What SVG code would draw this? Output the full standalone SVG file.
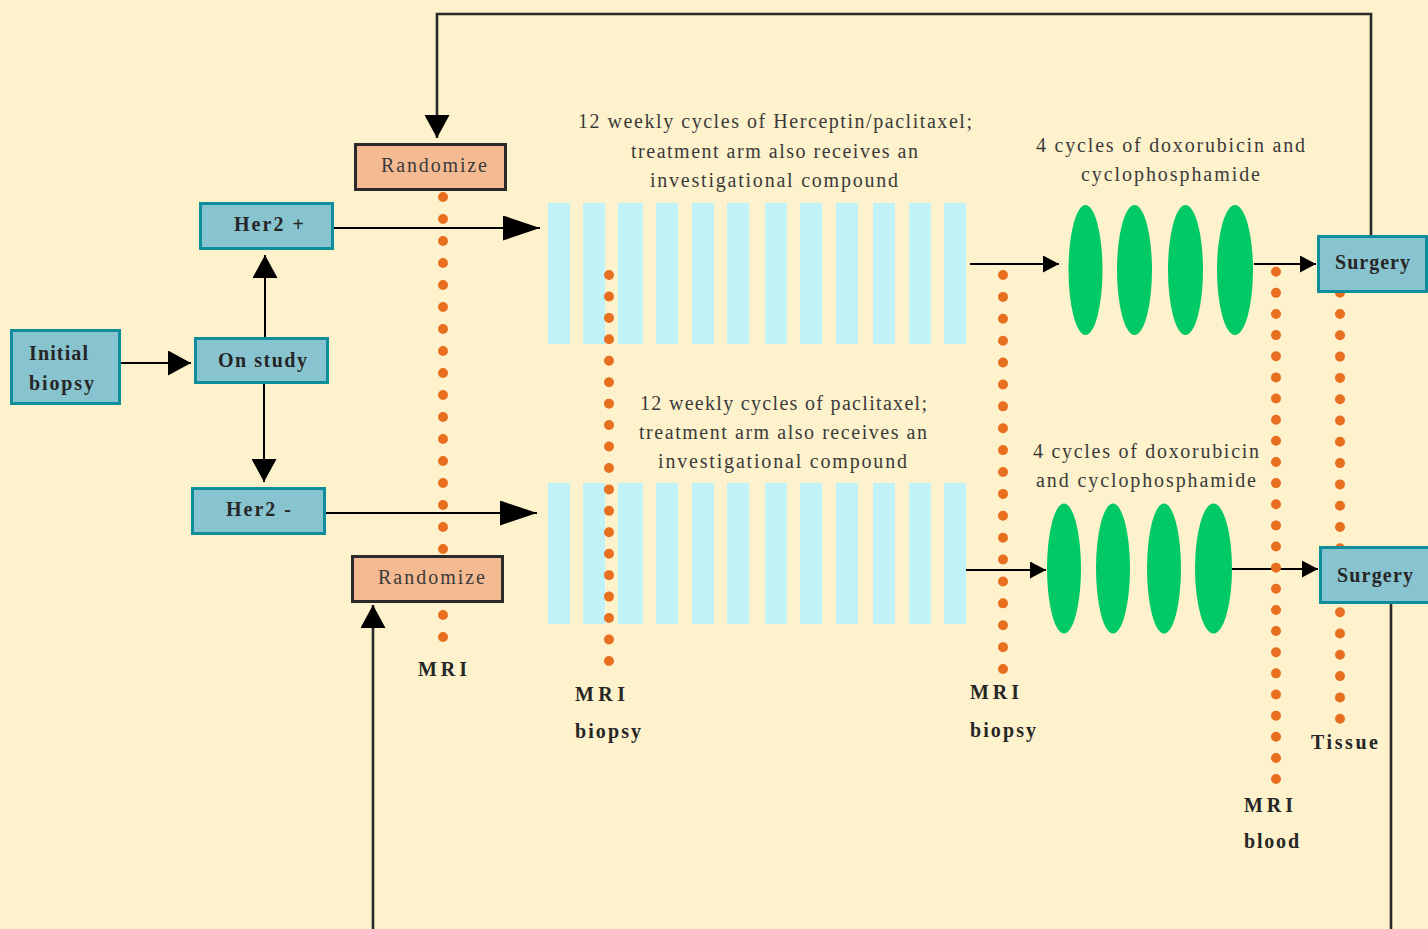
<svg xmlns="http://www.w3.org/2000/svg" width="1428" height="929" viewBox="0 0 1428 929">
<defs>
<marker id="big" markerWidth="23" markerHeight="25" refX="23" refY="12.5" orient="auto" markerUnits="userSpaceOnUse"><path d="M0,0 L23,12.5 L0,25 z" fill="#000"/></marker>
<marker id="long" markerWidth="37" markerHeight="25" refX="37" refY="12.5" orient="auto" markerUnits="userSpaceOnUse"><path d="M0,0 L37,12.5 L0,25 z" fill="#000"/></marker>
<marker id="small" markerWidth="16" markerHeight="17" refX="16" refY="8.5" orient="auto" markerUnits="userSpaceOnUse"><path d="M0,0 L16,8.5 L0,17 z" fill="#000"/></marker>
</defs>
<style>
.box{fill:#88C4CF;stroke:#0E8E9A;stroke-width:3}
.rnd{fill:#F4BB93;stroke:#2A2A2A;stroke-width:3}
.bar{fill:#C0F2F7}
.ell{fill:#00C965}
.dots{stroke:#E86F1F;stroke-width:10;stroke-linecap:round;fill:none}
.con{stroke:#000;stroke-width:2;fill:none}
.loop{stroke:#2A2A2A;stroke-width:2.6;fill:none}
.b{font-family:"Liberation Serif","Times New Roman",serif;font-weight:bold;font-size:20px;fill:#262626}
.r{font-family:"Liberation Serif","Times New Roman",serif;font-size:20px;fill:#3A3A3A}
</style>
<rect x="0" y="0" width="1428" height="929" fill="#FEF2CC"/>

<g id="cycles-top">
<rect class="bar" x="548" y="203" width="22" height="141"/>
<rect class="bar" x="583" y="203" width="22" height="141"/>
<rect class="bar" x="618" y="203" width="25" height="141"/>
<rect class="bar" x="656" y="203" width="22" height="141"/>
<rect class="bar" x="692" y="203" width="22" height="141"/>
<rect class="bar" x="727" y="203" width="22" height="141"/>
<rect class="bar" x="765" y="203" width="22" height="141"/>
<rect class="bar" x="800" y="203" width="22" height="141"/>
<rect class="bar" x="836" y="203" width="22" height="141"/>
<rect class="bar" x="873" y="203" width="22" height="141"/>
<rect class="bar" x="909" y="203" width="22" height="141"/>
<rect class="bar" x="944" y="203" width="22" height="141"/>
<text class="r" x="578" y="128" textLength="394" lengthAdjust="spacing">12 weekly cycles of Herceptin/paclitaxel;</text>
<text class="r" x="631" y="158" textLength="287" lengthAdjust="spacing">treatment arm also receives an</text>
<text class="r" x="650" y="187" textLength="248" lengthAdjust="spacing">investigational compound</text>
</g>

<g id="cycles-bottom">
<rect class="bar" x="548" y="483" width="22" height="141"/>
<rect class="bar" x="583" y="483" width="22" height="141"/>
<rect class="bar" x="618" y="483" width="25" height="141"/>
<rect class="bar" x="656" y="483" width="22" height="141"/>
<rect class="bar" x="692" y="483" width="22" height="141"/>
<rect class="bar" x="727" y="483" width="22" height="141"/>
<rect class="bar" x="765" y="483" width="22" height="141"/>
<rect class="bar" x="800" y="483" width="22" height="141"/>
<rect class="bar" x="836" y="483" width="22" height="141"/>
<rect class="bar" x="873" y="483" width="22" height="141"/>
<rect class="bar" x="909" y="483" width="22" height="141"/>
<rect class="bar" x="944" y="483" width="22" height="141"/>
<text class="r" x="640" y="410" textLength="287" lengthAdjust="spacing">12 weekly cycles of paclitaxel;</text>
<text class="r" x="639" y="439" textLength="288" lengthAdjust="spacing">treatment arm also receives an</text>
<text class="r" x="658" y="468" textLength="249" lengthAdjust="spacing">investigational compound</text>
</g>

<g id="ac-top">
<ellipse class="ell" cx="1085.5" cy="270" rx="17" ry="65"/>
<ellipse class="ell" cx="1134.5" cy="270" rx="17.5" ry="65"/>
<ellipse class="ell" cx="1185.5" cy="270" rx="17.5" ry="65"/>
<ellipse class="ell" cx="1235" cy="270" rx="18" ry="65"/>
<text class="r" x="1036" y="152" textLength="269" lengthAdjust="spacing">4 cycles of doxorubicin and</text>
<text class="r" x="1081" y="181" textLength="179" lengthAdjust="spacing">cyclophosphamide</text>
</g>

<g id="ac-bottom">
<ellipse class="ell" cx="1064" cy="568.5" rx="17" ry="65"/>
<ellipse class="ell" cx="1113" cy="568.5" rx="17" ry="65"/>
<ellipse class="ell" cx="1164" cy="568.5" rx="17" ry="65"/>
<ellipse class="ell" cx="1213.5" cy="568.5" rx="18.5" ry="65"/>
<text class="r" x="1033" y="458" textLength="226" lengthAdjust="spacing">4 cycles of doxorubicin</text>
<text class="r" x="1036" y="487" textLength="220" lengthAdjust="spacing">and cyclophosphamide</text>
</g>

<g id="connectors">
<line class="con" x1="121" y1="363" x2="191" y2="363" marker-end="url(#big)"/>
<line class="con" x1="265" y1="337" x2="265" y2="255" marker-end="url(#big)"/>
<line class="con" x1="264" y1="384" x2="264" y2="482" marker-end="url(#big)"/>
<line class="con" x1="334" y1="228" x2="540" y2="228" marker-end="url(#long)"/>
<line class="con" x1="326" y1="513" x2="537" y2="513" marker-end="url(#long)"/>
<line class="con" x1="970" y1="264" x2="1059" y2="264" marker-end="url(#small)"/>
<line class="con" x1="1254" y1="264" x2="1316" y2="264" marker-end="url(#small)"/>
<line class="con" x1="966" y1="570" x2="1046" y2="570" marker-end="url(#small)"/>
<line class="con" x1="1232" y1="569" x2="1318" y2="569" marker-end="url(#small)"/>
<path class="loop" d="M1371,236 V14 H437 V138" marker-end="url(#big)"/>
<path class="loop" d="M1391,604 V950 H373 V605" marker-end="url(#big)"/>
</g>

<g id="assessments">
<line class="dots" x1="443" y1="197" x2="443" y2="637.5" stroke-dasharray="0 22"/>
<line class="dots" x1="609" y1="275" x2="609" y2="661.5" stroke-dasharray="0 21.44"/>
<line class="dots" x1="1003" y1="275" x2="1003" y2="669.5" stroke-dasharray="0 21.89"/>
<line class="dots" x1="1276" y1="271.7" x2="1276" y2="779.5" stroke-dasharray="0 21.14"/>
<line class="dots" x1="1340" y1="292.7" x2="1340" y2="719.5" stroke-dasharray="0 21.3"/>
<text class="b" x="418" y="676" textLength="49" lengthAdjust="spacing">MRI</text>
<text class="b" x="575" y="701" textLength="50" lengthAdjust="spacing">MRI</text>
<text class="b" x="575" y="738" textLength="66" lengthAdjust="spacing">biopsy</text>
<text class="b" x="970" y="699" textLength="49" lengthAdjust="spacing">MRI</text>
<text class="b" x="970" y="737" textLength="66" lengthAdjust="spacing">biopsy</text>
<text class="b" x="1311" y="749" textLength="67" lengthAdjust="spacing">Tissue</text>
<text class="b" x="1244" y="812" textLength="49" lengthAdjust="spacing">MRI</text>
<text class="b" x="1244" y="848" textLength="55" lengthAdjust="spacing">blood</text>
</g>

<g id="initial-biopsy">
<rect class="box" x="11.5" y="330.5" width="108" height="73"/>
<text class="b" x="29" y="360" textLength="59" lengthAdjust="spacing">Initial</text>
<text class="b" x="29" y="390" textLength="65" lengthAdjust="spacing">biopsy</text>
</g>
<g id="on-study">
<rect class="box" x="195.5" y="338.5" width="132" height="44"/>
<text class="b" x="218" y="367" textLength="89" lengthAdjust="spacing">On study</text>
</g>
<g id="her2-pos">
<rect class="box" x="200.5" y="203.5" width="132" height="45"/>
<text class="b" x="234" y="231" textLength="70" lengthAdjust="spacing">Her2 +</text>
</g>
<g id="her2-neg">
<rect class="box" x="192.5" y="488.5" width="132" height="45"/>
<text class="b" x="226" y="516" textLength="65" lengthAdjust="spacing">Her2 -</text>
</g>
<g id="randomize-top">
<rect class="rnd" x="355.5" y="144.5" width="150" height="45"/>
<text class="r" x="381" y="172" textLength="106" lengthAdjust="spacing">Randomize</text>
</g>
<g id="randomize-bottom">
<rect class="rnd" x="352.5" y="556.5" width="150" height="45"/>
<text class="r" x="378" y="584" textLength="107" lengthAdjust="spacing">Randomize</text>
</g>
<g id="surgery-top">
<rect class="box" x="1318.5" y="236.5" width="108" height="55"/>
<text class="b" x="1335" y="269" textLength="75" lengthAdjust="spacing">Surgery</text>
</g>
<g id="surgery-bottom">
<rect class="box" x="1320.5" y="547.5" width="112" height="55"/>
<text class="b" x="1337" y="582" textLength="76" lengthAdjust="spacing">Surgery</text>
</g>
</svg>
